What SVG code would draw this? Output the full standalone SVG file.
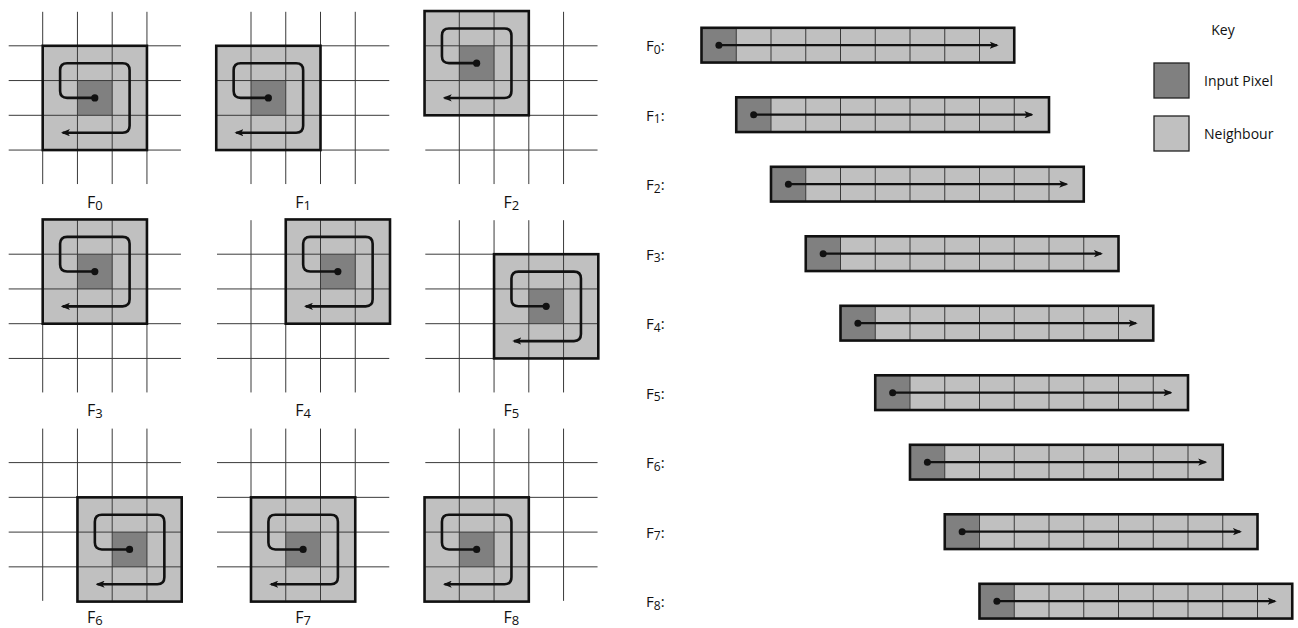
<svg xmlns="http://www.w3.org/2000/svg" width="1298" height="628" viewBox="0 0 1298 628">
  <defs>
    <style>
      text { font-family: "Open Sans", "Noto Sans", "DejaVu Sans", sans-serif; fill: #111; }
      .win { fill: #c0c0c0; }
      .px { fill: #808080; }
      .grid { fill: none; stroke: #3a3a3a; stroke-width: 1; }
      .frame { fill: none; stroke: #111; stroke-width: 2.6; }
      .cell { fill: none; stroke: #3a3a3a; stroke-width: 1; }
      .spiral { fill: none; stroke: #111; stroke-width: 2.6; stroke-linejoin: round; marker-end: url(#head); }
      .scan { fill: none; stroke: #111; stroke-width: 2.2; marker-end: url(#head); }
      .dot { fill: #111; }
      .flabel { font-size: 16px; }
      .blabel { font-size: 15px; }
      .key { font-size: 14px; }
    </style>
    <marker id="head" viewBox="0 0 10 8" markerWidth="9" markerHeight="7.5" refX="8" refY="4" orient="auto" markerUnits="userSpaceOnUse">
      <path d="M0,0 L10,4 L0,8 L2.5,4 Z" fill="#111"/>
    </marker>
    <!-- 4x4 lattice of pixel boundaries, cell size 34.75 -->
    <path id="lattice" class="grid" d="M0,-34V138.25M34.75,-34V138.25M69.5,-34V138.25M104.25,-34V138.25M-34,0H138.25M-34,34.75H138.25M-34,69.5H138.25M-34,104.25H138.25"/>
    <!-- 3x3 window spiral, relative to window origin -->
    <path id="spiral" d="M52.1,52.1H24.4Q17.4,52.1 17.4,45.1V24.4Q17.4,17.4 24.4,17.4H79.9Q86.9,17.4 86.9,24.4V79.9Q86.9,86.9 79.9,86.9H20"/>
    <!-- 1x9 row: first cell is the input pixel -->
    <g id="row">
      <rect class="win" x="0" y="0" width="312.75" height="34.75"/>
      <rect class="px" x="0" y="0" width="34.75" height="34.75"/>
      <path class="cell" d="M34.75,0V34.75M69.5,0V34.75M104.25,0V34.75M139,0V34.75M173.75,0V34.75M208.5,0V34.75M243.25,0V34.75M278,0V34.75"/>
      <rect class="frame" x="0" y="0" width="312.75" height="34.75"/>
    </g>
  </defs>

  <!-- window positions on the image lattice -->
  <g id="f0" transform="translate(42.7,45.8)">
    <rect class="win" x="0" y="0" width="104.25" height="104.25"/>
    <rect class="px" x="34.75" y="34.75" width="34.75" height="34.75"/>
    <use href="#lattice"/>
    <rect class="frame" x="0" y="0" width="104.25" height="104.25"/>
    <text class="flabel" x="52.1" y="162" text-anchor="middle">F<tspan font-size="13" dy="2">0</tspan></text>
  </g>
  <g id="f1" transform="translate(251,45.8)">
    <rect class="win" x="-34.75" y="0" width="104.25" height="104.25"/>
    <rect class="px" x="0" y="34.75" width="34.75" height="34.75"/>
    <use href="#lattice"/>
    <rect class="frame" x="-34.75" y="0" width="104.25" height="104.25"/>
    <text class="flabel" x="52.1" y="162" text-anchor="middle">F<tspan font-size="13" dy="2">1</tspan></text>
  </g>
  <g id="f2" transform="translate(459.3,45.8)">
    <rect class="win" x="-34.75" y="-34.75" width="104.25" height="104.25"/>
    <rect class="px" x="0" y="0" width="34.75" height="34.75"/>
    <use href="#lattice"/>
    <rect class="frame" x="-34.75" y="-34.75" width="104.25" height="104.25"/>
    <text class="flabel" x="52.1" y="162" text-anchor="middle">F<tspan font-size="13" dy="2">2</tspan></text>
  </g>
  <g id="f3" transform="translate(42.7,254.2)">
    <rect class="win" x="0" y="-34.75" width="104.25" height="104.25"/>
    <rect class="px" x="34.75" y="0" width="34.75" height="34.75"/>
    <use href="#lattice"/>
    <rect class="frame" x="0" y="-34.75" width="104.25" height="104.25"/>
    <text class="flabel" x="52.1" y="162" text-anchor="middle">F<tspan font-size="13" dy="2">3</tspan></text>
  </g>
  <g id="f4" transform="translate(251,254.2)">
    <rect class="win" x="34.75" y="-34.75" width="104.25" height="104.25"/>
    <rect class="px" x="69.5" y="0" width="34.75" height="34.75"/>
    <use href="#lattice"/>
    <rect class="frame" x="34.75" y="-34.75" width="104.25" height="104.25"/>
    <text class="flabel" x="52.1" y="162" text-anchor="middle">F<tspan font-size="13" dy="2">4</tspan></text>
  </g>
  <g id="f5" transform="translate(459.3,254.2)">
    <rect class="win" x="34.75" y="0" width="104.25" height="104.25"/>
    <rect class="px" x="69.5" y="34.75" width="34.75" height="34.75"/>
    <use href="#lattice"/>
    <rect class="frame" x="34.75" y="0" width="104.25" height="104.25"/>
    <text class="flabel" x="52.1" y="162" text-anchor="middle">F<tspan font-size="13" dy="2">5</tspan></text>
  </g>
  <g id="f6" transform="translate(42.7,462.6)">
    <rect class="win" x="34.75" y="34.75" width="104.25" height="104.25"/>
    <rect class="px" x="69.5" y="69.5" width="34.75" height="34.75"/>
    <use href="#lattice"/>
    <rect class="frame" x="34.75" y="34.75" width="104.25" height="104.25"/>
    <text class="flabel" x="52.1" y="160.5" text-anchor="middle">F<tspan font-size="13" dy="2">6</tspan></text>
  </g>
  <g id="f7" transform="translate(251,462.6)">
    <rect class="win" x="0" y="34.75" width="104.25" height="104.25"/>
    <rect class="px" x="34.75" y="69.5" width="34.75" height="34.75"/>
    <use href="#lattice"/>
    <rect class="frame" x="0" y="34.75" width="104.25" height="104.25"/>
    <text class="flabel" x="52.1" y="160.5" text-anchor="middle">F<tspan font-size="13" dy="2">7</tspan></text>
  </g>
  <g id="f8" transform="translate(459.3,462.6)">
    <rect class="win" x="-34.75" y="34.75" width="104.25" height="104.25"/>
    <rect class="px" x="0" y="69.5" width="34.75" height="34.75"/>
    <use href="#lattice"/>
    <rect class="frame" x="-34.75" y="34.75" width="104.25" height="104.25"/>
    <text class="flabel" x="52.1" y="160.5" text-anchor="middle">F<tspan font-size="13" dy="2">8</tspan></text>
  </g>

  <!-- flattened rows, one per window position -->
  <g id="row0" transform="translate(701.5,27.8)"><use href="#row"/></g>
  <g id="row1" transform="translate(736.25,97.3)"><use href="#row"/></g>
  <g id="row2" transform="translate(771,166.8)"><use href="#row"/></g>
  <g id="row3" transform="translate(805.75,236.3)"><use href="#row"/></g>
  <g id="row4" transform="translate(840.5,305.8)"><use href="#row"/></g>
  <g id="row5" transform="translate(875.25,375.3)"><use href="#row"/></g>
  <g id="row6" transform="translate(910,444.8)"><use href="#row"/></g>
  <g id="row7" transform="translate(944.75,514.3)"><use href="#row"/></g>
  <g id="row8" transform="translate(979.5,583.8)"><use href="#row"/></g>

  <g id="row-labels">
    <text class="blabel" x="646" y="51">F<tspan font-size="12" dy="2.5">0</tspan><tspan dy="-2.5">:</tspan></text>
    <text class="blabel" x="646" y="120.5">F<tspan font-size="12" dy="2.5">1</tspan><tspan dy="-2.5">:</tspan></text>
    <text class="blabel" x="646" y="190">F<tspan font-size="12" dy="2.5">2</tspan><tspan dy="-2.5">:</tspan></text>
    <text class="blabel" x="646" y="259.5">F<tspan font-size="12" dy="2.5">3</tspan><tspan dy="-2.5">:</tspan></text>
    <text class="blabel" x="646" y="329">F<tspan font-size="12" dy="2.5">4</tspan><tspan dy="-2.5">:</tspan></text>
    <text class="blabel" x="646" y="398.5">F<tspan font-size="12" dy="2.5">5</tspan><tspan dy="-2.5">:</tspan></text>
    <text class="blabel" x="646" y="468">F<tspan font-size="12" dy="2.5">6</tspan><tspan dy="-2.5">:</tspan></text>
    <text class="blabel" x="646" y="537.5">F<tspan font-size="12" dy="2.5">7</tspan><tspan dy="-2.5">:</tspan></text>
    <text class="blabel" x="646" y="607">F<tspan font-size="12" dy="2.5">8</tspan><tspan dy="-2.5">:</tspan></text>
  </g>

  <!-- scan order: spiral through each window, straight run along each row -->
  <g id="scan-paths">
    <g transform="translate(42.7,45.8)"><use href="#spiral" class="spiral"/><circle class="dot" cx="52.1" cy="52.1" r="3.6"/></g>
    <g transform="translate(216.25,45.8)"><use href="#spiral" class="spiral"/><circle class="dot" cx="52.1" cy="52.1" r="3.6"/></g>
    <g transform="translate(424.55,11.05)"><use href="#spiral" class="spiral"/><circle class="dot" cx="52.1" cy="52.1" r="3.6"/></g>
    <g transform="translate(42.7,219.45)"><use href="#spiral" class="spiral"/><circle class="dot" cx="52.1" cy="52.1" r="3.6"/></g>
    <g transform="translate(285.75,219.45)"><use href="#spiral" class="spiral"/><circle class="dot" cx="52.1" cy="52.1" r="3.6"/></g>
    <g transform="translate(494.05,254.2)"><use href="#spiral" class="spiral"/><circle class="dot" cx="52.1" cy="52.1" r="3.6"/></g>
    <g transform="translate(77.45,497.35)"><use href="#spiral" class="spiral"/><circle class="dot" cx="52.1" cy="52.1" r="3.6"/></g>
    <g transform="translate(251,497.35)"><use href="#spiral" class="spiral"/><circle class="dot" cx="52.1" cy="52.1" r="3.6"/></g>
    <g transform="translate(424.55,497.35)"><use href="#spiral" class="spiral"/><circle class="dot" cx="52.1" cy="52.1" r="3.6"/></g>

    <g transform="translate(701.5,27.8)"><path class="scan" d="M17.4,17.4H295.4"/><circle class="dot" cx="17.4" cy="17.4" r="3.5"/></g>
    <g transform="translate(736.25,97.3)"><path class="scan" d="M17.4,17.4H295.4"/><circle class="dot" cx="17.4" cy="17.4" r="3.5"/></g>
    <g transform="translate(771,166.8)"><path class="scan" d="M17.4,17.4H295.4"/><circle class="dot" cx="17.4" cy="17.4" r="3.5"/></g>
    <g transform="translate(805.75,236.3)"><path class="scan" d="M17.4,17.4H295.4"/><circle class="dot" cx="17.4" cy="17.4" r="3.5"/></g>
    <g transform="translate(840.5,305.8)"><path class="scan" d="M17.4,17.4H295.4"/><circle class="dot" cx="17.4" cy="17.4" r="3.5"/></g>
    <g transform="translate(875.25,375.3)"><path class="scan" d="M17.4,17.4H295.4"/><circle class="dot" cx="17.4" cy="17.4" r="3.5"/></g>
    <g transform="translate(910,444.8)"><path class="scan" d="M17.4,17.4H295.4"/><circle class="dot" cx="17.4" cy="17.4" r="3.5"/></g>
    <g transform="translate(944.75,514.3)"><path class="scan" d="M17.4,17.4H295.4"/><circle class="dot" cx="17.4" cy="17.4" r="3.5"/></g>
    <g transform="translate(979.5,583.8)"><path class="scan" d="M17.4,17.4H295.4"/><circle class="dot" cx="17.4" cy="17.4" r="3.5"/></g>
  </g>

  <!-- legend -->
  <g id="key">
    <text class="key" x="1223" y="35" text-anchor="middle">Key</text>
    <rect x="1154" y="63" width="35" height="35" fill="#808080" stroke="#222" stroke-width="1.3"/>
    <text class="key" x="1204" y="86">Input Pixel</text>
    <rect x="1154" y="116" width="35" height="35" fill="#c0c0c0" stroke="#222" stroke-width="1.3"/>
    <text class="key" x="1204" y="139">Neighbour</text>
  </g>
</svg>
